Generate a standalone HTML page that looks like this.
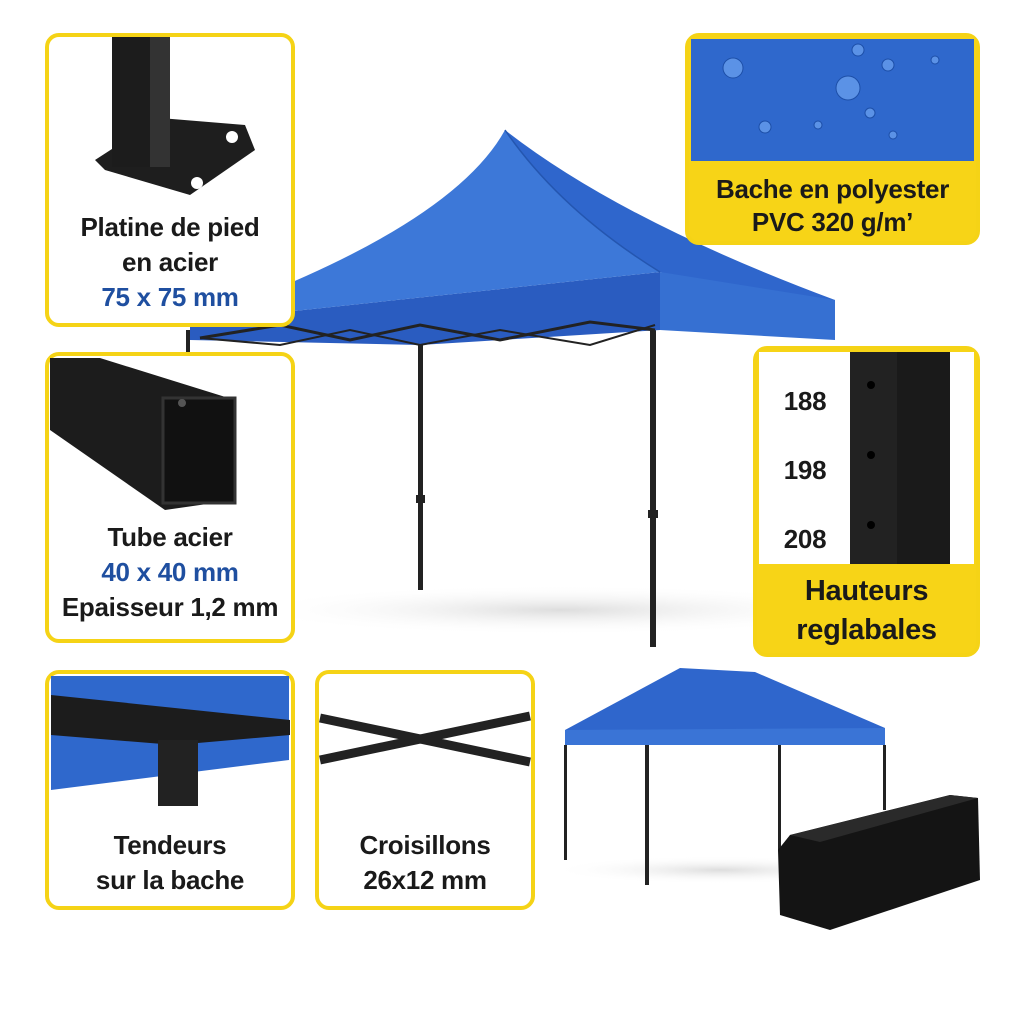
<!DOCTYPE html>
<html><head><meta charset="utf-8"><style>
html,body{margin:0;padding:0;background:#fff;}
body{width:1024px;height:1024px;position:relative;overflow:hidden;font-family:"Liberation Sans",sans-serif;}
.t{position:absolute;font-weight:bold;font-size:26px;color:#1a1a1a;text-align:center;line-height:35px;letter-spacing:-0.3px}
.b{color:#1f4fa0}
</style></head><body>
<svg width="1024" height="1024" style="position:absolute;left:0;top:0">
<defs>
<radialGradient id="sh" cx="0.5" cy="0.5" r="0.5"><stop offset="0" stop-color="#ddd"/><stop offset="1" stop-color="#fff" stop-opacity="0"/></radialGradient>
</defs>
<ellipse cx="560" cy="610" rx="320" ry="25" fill="url(#sh)"/>
<!-- legs -->
<rect x="186" y="330" width="4" height="25" fill="#222"/>
<rect x="418" y="340" width="5" height="250" fill="#222"/>
<rect x="650" y="322" width="6" height="325" fill="#222"/>
<rect x="416" y="495" width="9" height="8" fill="#222"/>
<rect x="648" y="510" width="10" height="8" fill="#222"/>
<!-- canopy -->
<path d="M190 322 L660 272 L660 330 L420 345 L190 340Z" fill="#2a5cc0"/>
<path d="M505 130 Q450 230 190 322 L660 272 Q560 210 505 130Z" fill="#3d78d8"/>
<path d="M505 130 Q560 210 660 272 L835 318 L835 300 Q620 220 505 130Z" fill="#2f66cc"/>
<path d="M660 272 L835 300 L835 340 L660 330Z" fill="#3670d2"/>
<path d="M505 130 Q560 210 660 272" stroke="#2456b0" stroke-width="1.5" fill="none"/>
<path d="M200 338 L280 325 L350 340 L420 325 L500 340 L590 322 L655 330" stroke="#222" stroke-width="3" fill="none"/>
<path d="M200 338 L280 345 L350 330 L420 345 L500 330 L590 345 L655 325" stroke="#222" stroke-width="2" fill="none"/>
<!-- small tent -->
<ellipse cx="720" cy="870" rx="170" ry="14" fill="url(#sh)"/>
<path d="M565 730 L680 668 L755 672 L885 728 L885 745 L565 745Z" fill="#2f66cc"/>
<path d="M565 730 L885 728 L885 745 L565 745Z" fill="#3a74d6"/>
<rect x="564" y="745" width="3" height="115" fill="#222"/>
<rect x="645" y="745" width="4" height="140" fill="#222"/>
<rect x="778" y="745" width="3" height="105" fill="#222"/>
<rect x="883" y="745" width="3" height="65" fill="#222"/>
<path d="M790 835 L950 795 L978 798 L980 880 L830 930 L780 915 L778 850Z" fill="#141414"/>
<path d="M790 835 L950 795 L978 798 L820 842Z" fill="#2a2a2a"/>
<!-- box 1 -->
<rect x="47" y="35" width="246" height="290" rx="12" fill="#fff" stroke="#f5d316" stroke-width="4"/>
<path d="M95 160 L160 118 L245 125 L255 150 L190 195 L105 170Z" fill="#1e1e1e"/>
<rect x="112" y="37" width="58" height="130" fill="#1c1c1c"/><rect x="150" y="37" width="20" height="130" fill="#333"/>
<circle cx="232" cy="137" r="6" fill="#fff"/><circle cx="197" cy="183" r="6" fill="#fff"/>
<!-- box 2 -->
<rect x="47" y="354" width="246" height="287" rx="12" fill="#fff" stroke="#f5d316" stroke-width="4"/>
<path d="M50 358 L100 358 L235 400 L235 500 L165 510 L50 430Z" fill="#1c1c1c"/>
<rect x="163" y="398" width="72" height="105" fill="#111" stroke="#333" stroke-width="3"/>
<circle cx="182" cy="403" r="4" fill="#555"/>
<!-- box 3 -->
<rect x="687" y="35" width="291" height="208" rx="12" fill="#f7d417" stroke="#f5d316" stroke-width="4"/>
<rect x="691" y="39" width="283" height="122" fill="#2f68cc"/>
<g fill="#5b92e6" stroke="#1d4fa8" stroke-width="1"><circle cx="733" cy="68" r="10"/><circle cx="848" cy="88" r="12"/><circle cx="858" cy="50" r="6"/><circle cx="888" cy="65" r="6"/><circle cx="765" cy="127" r="6"/><circle cx="870" cy="113" r="5"/><circle cx="818" cy="125" r="4"/><circle cx="935" cy="60" r="4"/><circle cx="893" cy="135" r="4"/></g>
<!-- box 4 -->
<rect x="755" y="348" width="223" height="307" rx="12" fill="#f7d417" stroke="#f5d316" stroke-width="4"/>
<rect x="759" y="352" width="215" height="212" fill="#fff"/>
<rect x="850" y="352" width="100" height="212" fill="#1a1a1a"/><rect x="850" y="352" width="47" height="212" fill="#222"/>
<circle cx="871" cy="385" r="4" fill="#000"/><circle cx="871" cy="455" r="4" fill="#000"/><circle cx="871" cy="525" r="4" fill="#000"/>
<!-- box 5 -->
<rect x="47" y="672" width="246" height="236" rx="12" fill="#fff" stroke="#f5d316" stroke-width="4"/>
<path d="M51 676 L289 676 L289 760 L51 790Z" fill="#2f68cc"/>
<path d="M51 695 L290 720 L290 735 L175 745 L51 735Z" fill="#1c1c1c"/>
<rect x="158" y="740" width="40" height="66" fill="#222"/>
<!-- box 6 -->
<rect x="317" y="672" width="216" height="236" rx="12" fill="#fff" stroke="#f5d316" stroke-width="4"/>
<path d="M320 718 L530 762 M320 760 L530 716" stroke="#222" stroke-width="9"/>
</svg>
<div class="t" style="left:47px;top:210px;width:246px">Platine de pied<br>en acier<br><span class="b">75 x 75 mm</span></div>
<div class="t" style="left:47px;top:520px;width:246px">Tube acier<br><span class="b">40 x 40 mm</span><br>Epaisseur 1,2 mm</div>
<div class="t" style="left:687px;top:173px;width:291px;line-height:33px">Bache en polyester<br>PVC 320 g/m’</div>
<div class="t" style="left:770px;top:367px;width:70px;line-height:69px">188<br>198<br>208</div>
<div class="t" style="left:755px;top:572px;width:223px;font-size:29px;line-height:39px">Hauteurs<br>reglabales</div>
<div class="t" style="left:47px;top:828px;width:246px">Tendeurs<br>sur la bache</div>
<div class="t" style="left:317px;top:828px;width:216px">Croisillons<br>26x12 mm</div>
</body></html>
